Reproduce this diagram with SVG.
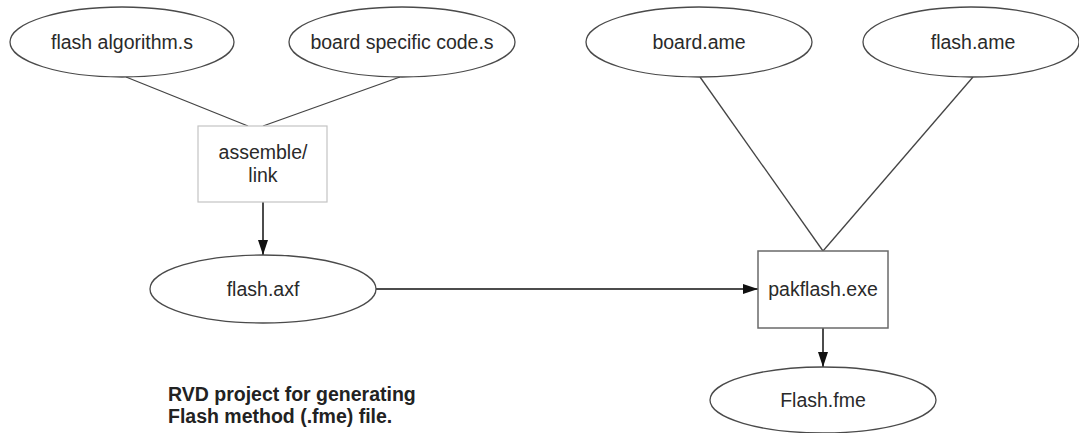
<svg xmlns="http://www.w3.org/2000/svg" width="1079" height="433" viewBox="0 0 1079 433">
  <defs>
    <marker id="arrow" markerWidth="15" markerHeight="10" refX="15" refY="5" orient="auto" markerUnits="userSpaceOnUse">
      <path d="M0,0 L15,5 L0,10 Z" fill="#111"/>
    </marker>
  </defs>
  <style>
    .file { fill: #fff; stroke: #4a4a4a; stroke-width: 1.3; }
    .tool-light { fill: #fff; stroke: #c4c4c4; stroke-width: 1.2; }
    .tool { fill: #fff; stroke: #6a6a6a; stroke-width: 1.5; }
    .label { font-family: "Liberation Sans", Arial, sans-serif; font-size: 19.5px; fill: #2a2a2a; text-anchor: middle; }
    .note { font-family: "Liberation Sans", Arial, sans-serif; font-size: 19.5px; font-weight: bold; fill: #222; }
    .link { stroke: #444; stroke-width: 1.3; fill: none; }
    .flow { stroke: #111; stroke-width: 1.5; fill: none; marker-end: url(#arrow); }
  </style>
  <rect width="1079" height="433" fill="#fff"/>

  <g id="connectors">
    <line class="link" x1="126" y1="77" x2="248" y2="126"/>
    <line class="link" x1="400" y1="77" x2="263" y2="126"/>
    <line class="link" x1="700" y1="77" x2="823" y2="251"/>
    <line class="link" x1="973" y1="77" x2="823" y2="251"/>
    <line class="flow" x1="263" y1="202" x2="263" y2="255"/>
    <line class="flow" x1="376" y1="289" x2="758" y2="289"/>
    <line class="flow" x1="823" y1="328" x2="823" y2="367"/>
  </g>

  <g id="flash-algorithm">
    <ellipse class="file" cx="122" cy="42" rx="112" ry="35"/>
    <text class="label" x="122" y="49">flash algorithm.s</text>
  </g>
  <g id="board-specific-code">
    <ellipse class="file" cx="402" cy="42" rx="113" ry="35"/>
    <text class="label" x="402" y="49">board specific code.s</text>
  </g>
  <g id="board-ame">
    <ellipse class="file" cx="699" cy="42" rx="113" ry="35"/>
    <text class="label" x="699" y="49">board.ame</text>
  </g>
  <g id="flash-ame">
    <ellipse class="file" cx="971" cy="42" rx="108" ry="35"/>
    <text class="label" x="973" y="49">flash.ame</text>
  </g>
  <g id="assemble-link">
    <rect class="tool-light" x="198" y="126" width="129" height="76"/>
    <text class="label" x="263" y="159">assemble/</text>
    <text class="label" x="263" y="182">link</text>
  </g>
  <g id="flash-axf">
    <ellipse class="file" cx="263" cy="289" rx="113" ry="34"/>
    <text class="label" x="263" y="296">flash.axf</text>
  </g>
  <g id="pakflash">
    <rect class="tool" x="758" y="251" width="130" height="77"/>
    <text class="label" x="823" y="296">pakflash.exe</text>
  </g>
  <g id="flash-fme">
    <ellipse class="file" cx="823" cy="400" rx="113" ry="33"/>
    <text class="label" x="823" y="407">Flash.fme</text>
  </g>

  <g id="caption">
    <text class="note" x="168" y="401">RVD project for generating</text>
    <text class="note" x="168" y="423">Flash method (.fme) file.</text>
  </g>
</svg>
